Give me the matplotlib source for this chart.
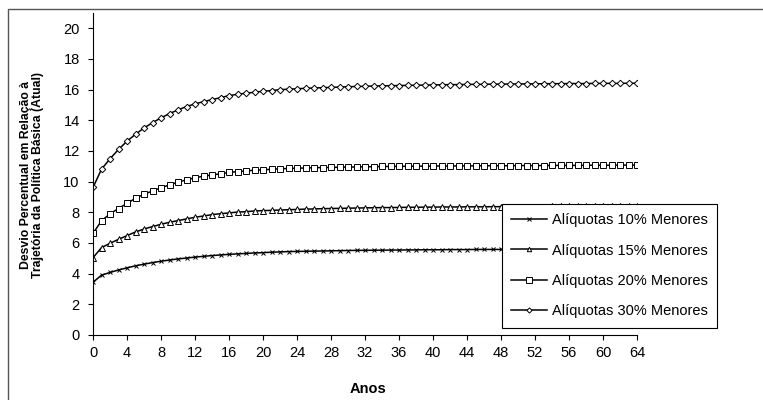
#!/usr/bin/python3

import matplotlib
matplotlib.use("Agg")
import matplotlib.pyplot as plt
from matplotlib.patches import Rectangle

# anos 0..64
anos = list(range(65))

# desvio percentual, aliquotas 10% menores
al10 = [3.44, 3.90, 4.08, 4.24, 4.38, 4.51, 4.62, 4.72, 4.81, 4.89,
        4.96, 5.02, 5.08, 5.13, 5.18, 5.22, 5.26, 5.29, 5.32, 5.35,
        5.37, 5.40, 5.42, 5.44, 5.45, 5.46, 5.47, 5.48, 5.49, 5.50,
        5.51, 5.52, 5.52, 5.53, 5.53, 5.54, 5.54, 5.55, 5.55, 5.56,
        5.56, 5.56, 5.57, 5.57, 5.57, 5.58, 5.58, 5.58, 5.58, 5.59,
        5.59, 5.59, 5.59, 5.60, 5.60, 5.60, 5.60, 5.60, 5.61, 5.61,
        5.61, 5.61, 5.61, 5.61, 5.62]

# aliquotas 15% menores
al15 = [5.04, 5.70, 5.98, 6.24, 6.48, 6.72, 6.91, 7.07, 7.22, 7.35,
        7.46, 7.57, 7.68, 7.76, 7.85, 7.91, 7.96, 8.02, 8.04, 8.09,
        8.11, 8.13, 8.15, 8.17, 8.19, 8.21, 8.22, 8.24, 8.25, 8.26,
        8.27, 8.28, 8.29, 8.30, 8.31, 8.31, 8.32, 8.33, 8.33, 8.34,
        8.34, 8.35, 8.35, 8.35, 8.36, 8.36, 8.36, 8.37, 8.37, 8.37,
        8.38, 8.38, 8.38, 8.38, 8.39, 8.39, 8.39, 8.39, 8.39, 8.40,
        8.40, 8.40, 8.40, 8.40, 8.40]

# aliquotas 20% menores
al20 = [6.62, 7.45, 7.90, 8.25, 8.58, 8.92, 9.18, 9.39, 9.60, 9.79,
        9.97, 10.12, 10.25, 10.36, 10.44, 10.51, 10.60, 10.66, 10.70, 10.75,
        10.77, 10.81, 10.84, 10.86, 10.88, 10.89, 10.91, 10.92, 10.93, 10.94,
        10.95, 10.96, 10.97, 10.98, 10.99, 10.99, 11.00, 11.00, 11.01, 11.01,
        11.02, 11.02, 11.02, 11.03, 11.03, 11.03, 11.04, 11.04, 11.04, 11.04,
        11.05, 11.05, 11.05, 11.05, 11.06, 11.06, 11.06, 11.06, 11.07, 11.07,
        11.07, 11.07, 11.08, 11.08, 11.08]

# aliquotas 30% menores
al30 = [9.62, 10.81, 11.49, 12.10, 12.64, 13.09, 13.50, 13.85, 14.16, 14.44,
        14.68, 14.90, 15.07, 15.22, 15.35, 15.48, 15.61, 15.70, 15.77, 15.83,
        15.90, 15.94, 16.00, 16.03, 16.06, 16.09, 16.11, 16.13, 16.15, 16.17,
        16.19, 16.21, 16.22, 16.24, 16.25, 16.26, 16.27, 16.28, 16.29, 16.30,
        16.31, 16.32, 16.33, 16.33, 16.34, 16.35, 16.35, 16.36, 16.36, 16.37,
        16.37, 16.38, 16.38, 16.39, 16.39, 16.39, 16.40, 16.40, 16.40, 16.41,
        16.41, 16.41, 16.41, 16.42, 16.42]

nomes = ["Alíquotas 10% Menores", "Alíquotas 15% Menores",
         "Alíquotas 20% Menores", "Alíquotas 30% Menores"]

xticks = list(range(0, 65, 4))
yticks = list(range(0, 21, 2))

#_____________________________________________________________________________
def main():

    plt.rcParams["font.family"] = ["Liberation Sans", "DejaVu Sans"]

    W, H = 763., 400.
    fig = plt.figure(figsize=(7.63, 4.0), dpi=100)

    # moldura externa (cortada a direita e embaixo)
    fig.patches.append(Rectangle((8/W, -0.1), 2., (400-9)/H + 0.1,
        transform=fig.transFigure, fill=False, ec="#555555", lw=1.0))

    ax = fig.add_axes([93/W, (H-335)/H, (637-93)/W, (335-13)/H])

    series = [al10, al15, al20, al30]
    marks = [("x", 3.2), ("^", 4.0), ("s", 4.6), ("D", 3.3)]

    for ys, (m, ms), nam in zip(series, marks, nomes):
        ax.plot(anos, ys, "-", color="black", lw=1.1, marker=m, ms=ms,
                mfc="white", mec="black", mew=0.7, label=nam)

    ax.set_xlim(0, 64)
    ax.set_ylim(0, 21)
    ax.set_xticks(xticks)
    ax.set_yticks(yticks)
    ax.tick_params(direction="out", length=3.6, width=0.8, labelsize=10.5)
    ax.tick_params(axis="x", pad=4.5)
    ax.tick_params(axis="y", pad=6)
    ax.spines["top"].set_visible(False)
    ax.spines["right"].set_visible(False)

    fig.text(368/W, 1 - 389/H, "Anos", ha="center", va="center",
             fontsize=10.5, fontweight="bold")
    fig.text(32/W, 1 - 175/H,
             "Desvio Percentual em Relação à\nTrajetória da Política Básica (Atual)",
             ha="center", va="center", rotation=90, fontsize=8.8,
             fontweight="bold", linespacing=1.1)

    leg = ax.legend(loc="upper left", bbox_to_anchor=(502/W, 1 - 204/H),
                    bbox_transform=fig.transFigure,
                    fontsize=10.5, frameon=True, fancybox=False, framealpha=1,
                    handlelength=2.45, handletextpad=0.35, labelspacing=1.13,
                    borderpad=0.62, borderaxespad=0., markerscale=0.8)
    leg.get_frame().set_edgecolor("black")
    leg.get_frame().set_linewidth(0.8)

    fig.savefig("out.png", dpi=100)
    plt.close()

#main

#_____________________________________________________________________________
if __name__ == "__main__":

    main()
